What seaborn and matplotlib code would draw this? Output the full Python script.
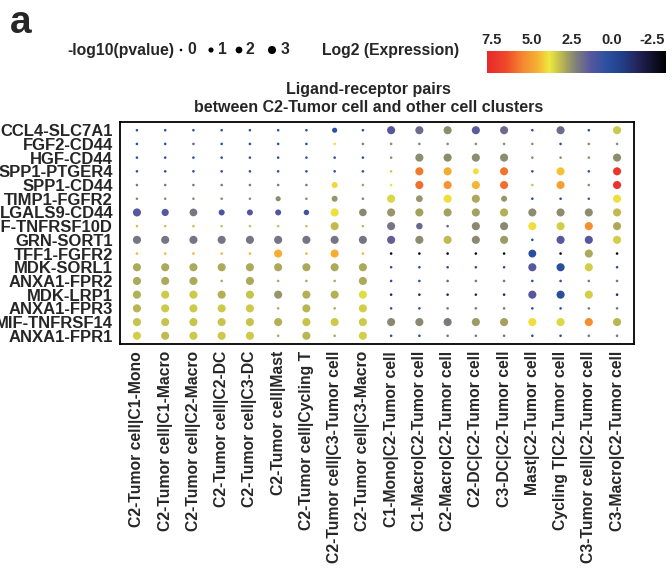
import numpy as np
import pandas as pd
import matplotlib
matplotlib.use("Agg")
import matplotlib.pyplot as plt
from matplotlib.colors import LinearSegmentedColormap, Normalize
from matplotlib.cm import ScalarMappable
import seaborn as sns

sns.set_style("white")
plt.rcParams["font.family"] = ["Liberation Sans", "DejaVu Sans"]
plt.rcParams["font.weight"] = "bold"

pairs = [
    "CCL4-SLC7A1", "FGF2-CD44", "HGF-CD44", "SPP1-PTGER4", "SPP1-CD44",
    "TIMP1-FGFR2", "LGALS9-CD44", "MIF-TNFRSF10D", "GRN-SORT1", "TFF1-FGFR2",
    "MDK-SORL1", "ANXA1-FPR2", "MDK-LRP1", "ANXA1-FPR3", "MIF-TNFRSF14",
    "ANXA1-FPR1",
]

clusters = [
    "C2-Tumor cell|C1-Mono", "C2-Tumor cell|C1-Macro", "C2-Tumor cell|C2-Macro",
    "C2-Tumor cell|C2-DC", "C2-Tumor cell|C3-DC", "C2-Tumor cell|Mast",
    "C2-Tumor cell|Cycling T", "C2-Tumor cell|C3-Tumor cell",
    "C2-Tumor cell|C3-Macro", "C1-Mono|C2-Tumor cell", "C1-Macro|C2-Tumor cell",
    "C2-Macro|C2-Tumor cell", "C2-DC|C2-Tumor cell", "C3-DC|C2-Tumor cell",
    "Mast|C2-Tumor cell", "Cycling T|C2-Tumor cell",
    "C3-Tumor cell|C2-Tumor cell", "C3-Macro|C2-Tumor cell",
]

# Log2 mean expression of each pair (rows) in each cluster pair (columns)
log2_expr = [
    [0.3, 0.3, 0.3, 0.3, 0.3, 0.3, 0.3, 0.4, 0.3, 1.3, 1.8, 2.5, 1.4, 1.8, 0.3, 1.8, 0.3, 3.4],
    [0.3, 0.3, 1.6, 0.3, 0.3, 0.3, 0.3, 4.0, 2.2, 2.5, 2.2, 2.5, 2.5, 2.5, 2.5, 0.3, 2.5, 2.5],
    [0.3, 0.3, 0.3, 0.3, 0.3, 0.3, 0.3, 0.3, 0.3, 2.5, 2.5, 2.5, 2.5, 2.5, 2.5, 2.5, 2.5, 2.5],
    [0.3, 0.3, 0.3, 0.3, 0.3, 0.3, 0.3, 0.3, 0.3, 3.4, 5.8, 4.8, 4.0, 5.9, 0.3, 4.4, 0.3, 7.3],
    [2.1, 2.1, 2.1, 2.1, 2.1, 2.1, 2.1, 4.1, 2.8, 4.0, 6.0, 5.3, 4.6, 6.0, 3.3, 5.0, 2.5, 7.4],
    [2.5, 2.5, 2.5, 2.5, 2.5, 2.5, 2.5, 2.6, 2.3, 3.6, 2.6, 4.0, 2.9, 2.6, 0.3, 0.3, 1.3, 4.0],
    [1.3, 1.3, 2.0, 1.0, 1.2, 1.2, 0.8, 4.0, 2.4, 2.6, 2.8, 2.8, 2.8, 3.0, 2.5, 2.5, 2.5, 3.2],
    [3.3, 3.3, 3.3, 3.3, 3.3, 3.3, 3.3, 3.2, 3.2, 2.0, 1.7, 1.5, 2.4, 2.4, 4.0, 3.5, 5.4, 2.9],
    [2.0, 2.0, 2.0, 2.0, 2.0, 2.0, 2.0, 2.0, 2.0, 1.5, 2.5, 3.2, 2.4, 2.7, 0.3, 1.3, 1.3, 3.5],
    [4.6, 4.6, 4.6, 4.6, 4.6, 4.7, 4.6, 4.7, 4.6, -3.0, -3.0, -3.0, -3.0, -3.0, 0.2, -3.0, 2.9, -3.0],
    [2.9, 2.9, 2.9, 2.9, 2.9, 2.9, 2.9, 2.9, 2.9, 0.3, 0.3, 0.3, 0.3, 0.3, 1.3, 0.2, 3.5, 0.3],
    [2.9, 2.9, 2.9, 2.9, 2.9, 2.9, 2.9, 2.9, 2.9, 0.3, 0.3, 1.7, 2.0, 2.0, 0.3, 0.3, 2.0, 2.0],
    [3.0, 3.4, 3.4, 3.0, 3.3, 2.6, 3.0, 3.0, 3.7, -1.5, -1.5, -1.5, -1.5, -1.5, 1.3, 0.2, 3.5, -1.5],
    [3.1, 3.4, 3.4, 3.4, 3.4, 2.9, 3.1, 2.9, 3.5, 0.3, 0.3, 2.0, 2.0, 2.0, 0.3, 0.3, 2.0, 2.0],
    [3.3, 3.3, 3.3, 3.3, 3.3, 3.0, 3.3, 3.4, 3.4, 2.4, 2.4, 2.1, 2.7, 2.8, 4.0, 3.6, 5.4, 3.1],
    [3.5, 3.2, 3.4, 3.4, 3.4, 2.9, 3.1, 2.9, 3.5, 0.3, 0.3, 2.0, 2.0, 2.0, 0.3, 0.3, 2.0, 2.0],
]

# -log10(p value) of each interaction
neg_log10_p = [
    [0, 0, 0, 0, 0, 0, 0, 1.0, 0, 3, 3, 3, 3, 3, 0, 3, 0, 3],
    [0, 0, 0, 0, 0, 0, 0, 0, 0, 0, 0, 0, 0, 0, 0, 0, 0, 0],
    [0, 0, 0, 0, 0, 0, 0, 0, 0, 0, 3, 3, 3, 3, 0, 0, 0, 3],
    [0, 0, 0, 0, 0, 0, 0, 0, 0, 0, 3, 3, 1.5, 3, 0, 3, 0, 3],
    [0, 0, 0, 0, 0, 0, 0, 1.5, 0, 0, 3, 3, 3, 3, 0, 3, 0, 3],
    [0, 0, 0, 0, 0, 1.0, 0, 1.5, 0, 3, 2, 3, 3, 1.5, 0, 0, 0, 3],
    [3.2, 2.3, 2.7, 1.5, 1.5, 1.5, 1.2, 3, 2.6, 3, 3, 3, 3, 3, 3, 3, 3, 3],
    [0, 0, 0, 0, 0, 0, 0, 3, 0, 3, 1.8, 0, 3, 3, 3, 3, 3, 3],
    [3, 3, 3, 3, 3, 3, 3, 3, 3, 3, 3, 3, 3, 3, 0, 3, 3, 3],
    [0, 0, 0, 0, 0, 3, 0, 3, 0, 0, 0, 0, 0, 0, 2.8, 0, 3, 0],
    [3, 3, 3, 3, 3, 3, 3, 3, 3, 0, 0, 0, 0, 0, 3, 3, 3, 0],
    [3, 3, 3, 0, 3, 0, 0, 0, 3, 0, 0, 0, 0, 0, 0, 0, 0, 0],
    [3, 3, 3, 3, 3, 3, 3, 3, 3, 0, 0, 0, 0, 0, 3, 3, 3, 0],
    [3, 3, 3, 3, 3, 0, 3, 0, 3, 0, 0, 0, 0, 0, 0, 0, 0, 0],
    [3, 3, 3, 3, 3, 3, 3, 3, 3, 3, 3, 3, 3, 3, 3, 3, 3, 3],
    [3, 3, 3, 3, 3, 0, 3, 0, 3, 0, 0, 0, 0, 0, 0, 0, 0, 0],
]

size_levels = [0, 1, 2, 3]
cbar_ticks = [7.5, 5.0, 2.5, 0.0, -2.5]

# long-format table for seaborn
records = []
for i, pair in enumerate(pairs):
    for j, cl in enumerate(clusters):
        records.append((pair, cl, log2_expr[i][j], neg_log10_p[i][j]))
df = pd.DataFrame(records, columns=["pair", "cluster", "expr", "nlp"])

# red -> orange -> yellow -> olive -> slate -> blue -> black
vmin, vmax = -3.4, 7.8
stops = [
    (7.8, "#e8282a"), (6.6, "#ee4a2b"), (5.6, "#f5862e"), (4.6, "#f5b433"),
    (3.9, "#ece83f"), (3.1, "#b9b552"), (2.5, "#8f8d6e"), (1.9, "#717089"),
    (1.3, "#56579e"), (0.3, "#2a50a0"), (-0.6, "#233f8a"), (-1.6, "#22255a"),
    (-2.5, "#121230"), (-3.4, "#000000"),
]
stops = sorted(stops)
cmap = LinearSegmentedColormap.from_list(
    "expr", [((v - vmin) / (vmax - vmin), c) for v, c in stops]
)
norm = Normalize(vmin=vmin, vmax=vmax)

W, H = 672, 584
fig = plt.figure(figsize=(W / 100, H / 100), dpi=100)


def fx(px):
    return px / W


def fy(py):
    return 1 - py / H


ax = fig.add_axes([fx(120), fy(344), fx(634) - fx(120), fy(122) - fy(344)])

size_range = (3.5, 34)
sns.scatterplot(
    data=df, x="cluster", y="pair", hue="expr", size="nlp",
    palette=cmap, hue_norm=norm, sizes=size_range, size_norm=(0, 3),
    linewidth=0, legend=False, ax=ax,
)
ax.set_xlim(-0.6, len(clusters) - 0.4)
ax.set_ylim(len(pairs) - 0.4, -0.6)
ax.set_xlabel("")
ax.set_ylabel("")
for s in ax.spines.values():
    s.set_visible(True)
    s.set_color("black")
    s.set_linewidth(1.3)
ax.tick_params(axis="both", length=3, width=0.8, color="black", pad=2)
ax.tick_params(axis="y", labelsize=12)
ax.tick_params(axis="x", labelsize=11.3, labelrotation=90)
for lab in ax.get_xticklabels() + ax.get_yticklabels():
    lab.set_fontweight("bold")
ax.set_title("Ligand-receptor pairs\nbetween C2-Tumor cell and other cell clusters",
             fontsize=11.5, fontweight="bold", pad=7, linespacing=1.25, x=0.483)

# panel letter
fig.text(fx(10), fy(33), "a", fontsize=28, fontweight="bold", ha="left", va="baseline")

# size legend
leg_ax = fig.add_axes([0, 0, 1, 1], facecolor="none")
leg_ax.set_xlim(0, W)
leg_ax.set_ylim(H, 0)
leg_ax.axis("off")
leg_y = 50
leg_ax.text(67, leg_y, "-log10(pvalue)", fontsize=11.3, fontweight="bold", ha="left", va="center")
dot_x = [181, 211, 239, 272]
lab_x = [192, 222, 250, 285]
lv = np.array(size_levels, dtype=float)
dot_s = size_range[0] + lv / 3 * (size_range[1] - size_range[0])
leg_ax.scatter(dot_x, [leg_y] * len(dot_x), s=dot_s, color="black", linewidths=0)
for x, v in zip(lab_x, size_levels):
    leg_ax.text(x, leg_y, str(v), fontsize=11.3, fontweight="bold", ha="center", va="center")
leg_ax.text(322, leg_y, "Log2 (Expression)", fontsize=11.3, fontweight="bold", ha="left", va="center")

# colour bar
cax = fig.add_axes([fx(487), fy(73), fx(666) - fx(487), fy(51) - fy(73)])
cb = fig.colorbar(ScalarMappable(norm=norm, cmap=cmap), cax=cax, orientation="horizontal")
cb.outline.set_visible(False)
cax.invert_xaxis()
cax.xaxis.set_ticks_position("top")
cb.set_ticks(cbar_ticks)
cb.set_ticklabels([f"{t:.1f}" for t in cbar_ticks])
cax.tick_params(length=0, pad=3, labelsize=10.5)
for lab in cax.get_xticklabels():
    lab.set_fontweight("bold")

fig.savefig("out.png", dpi=100)
